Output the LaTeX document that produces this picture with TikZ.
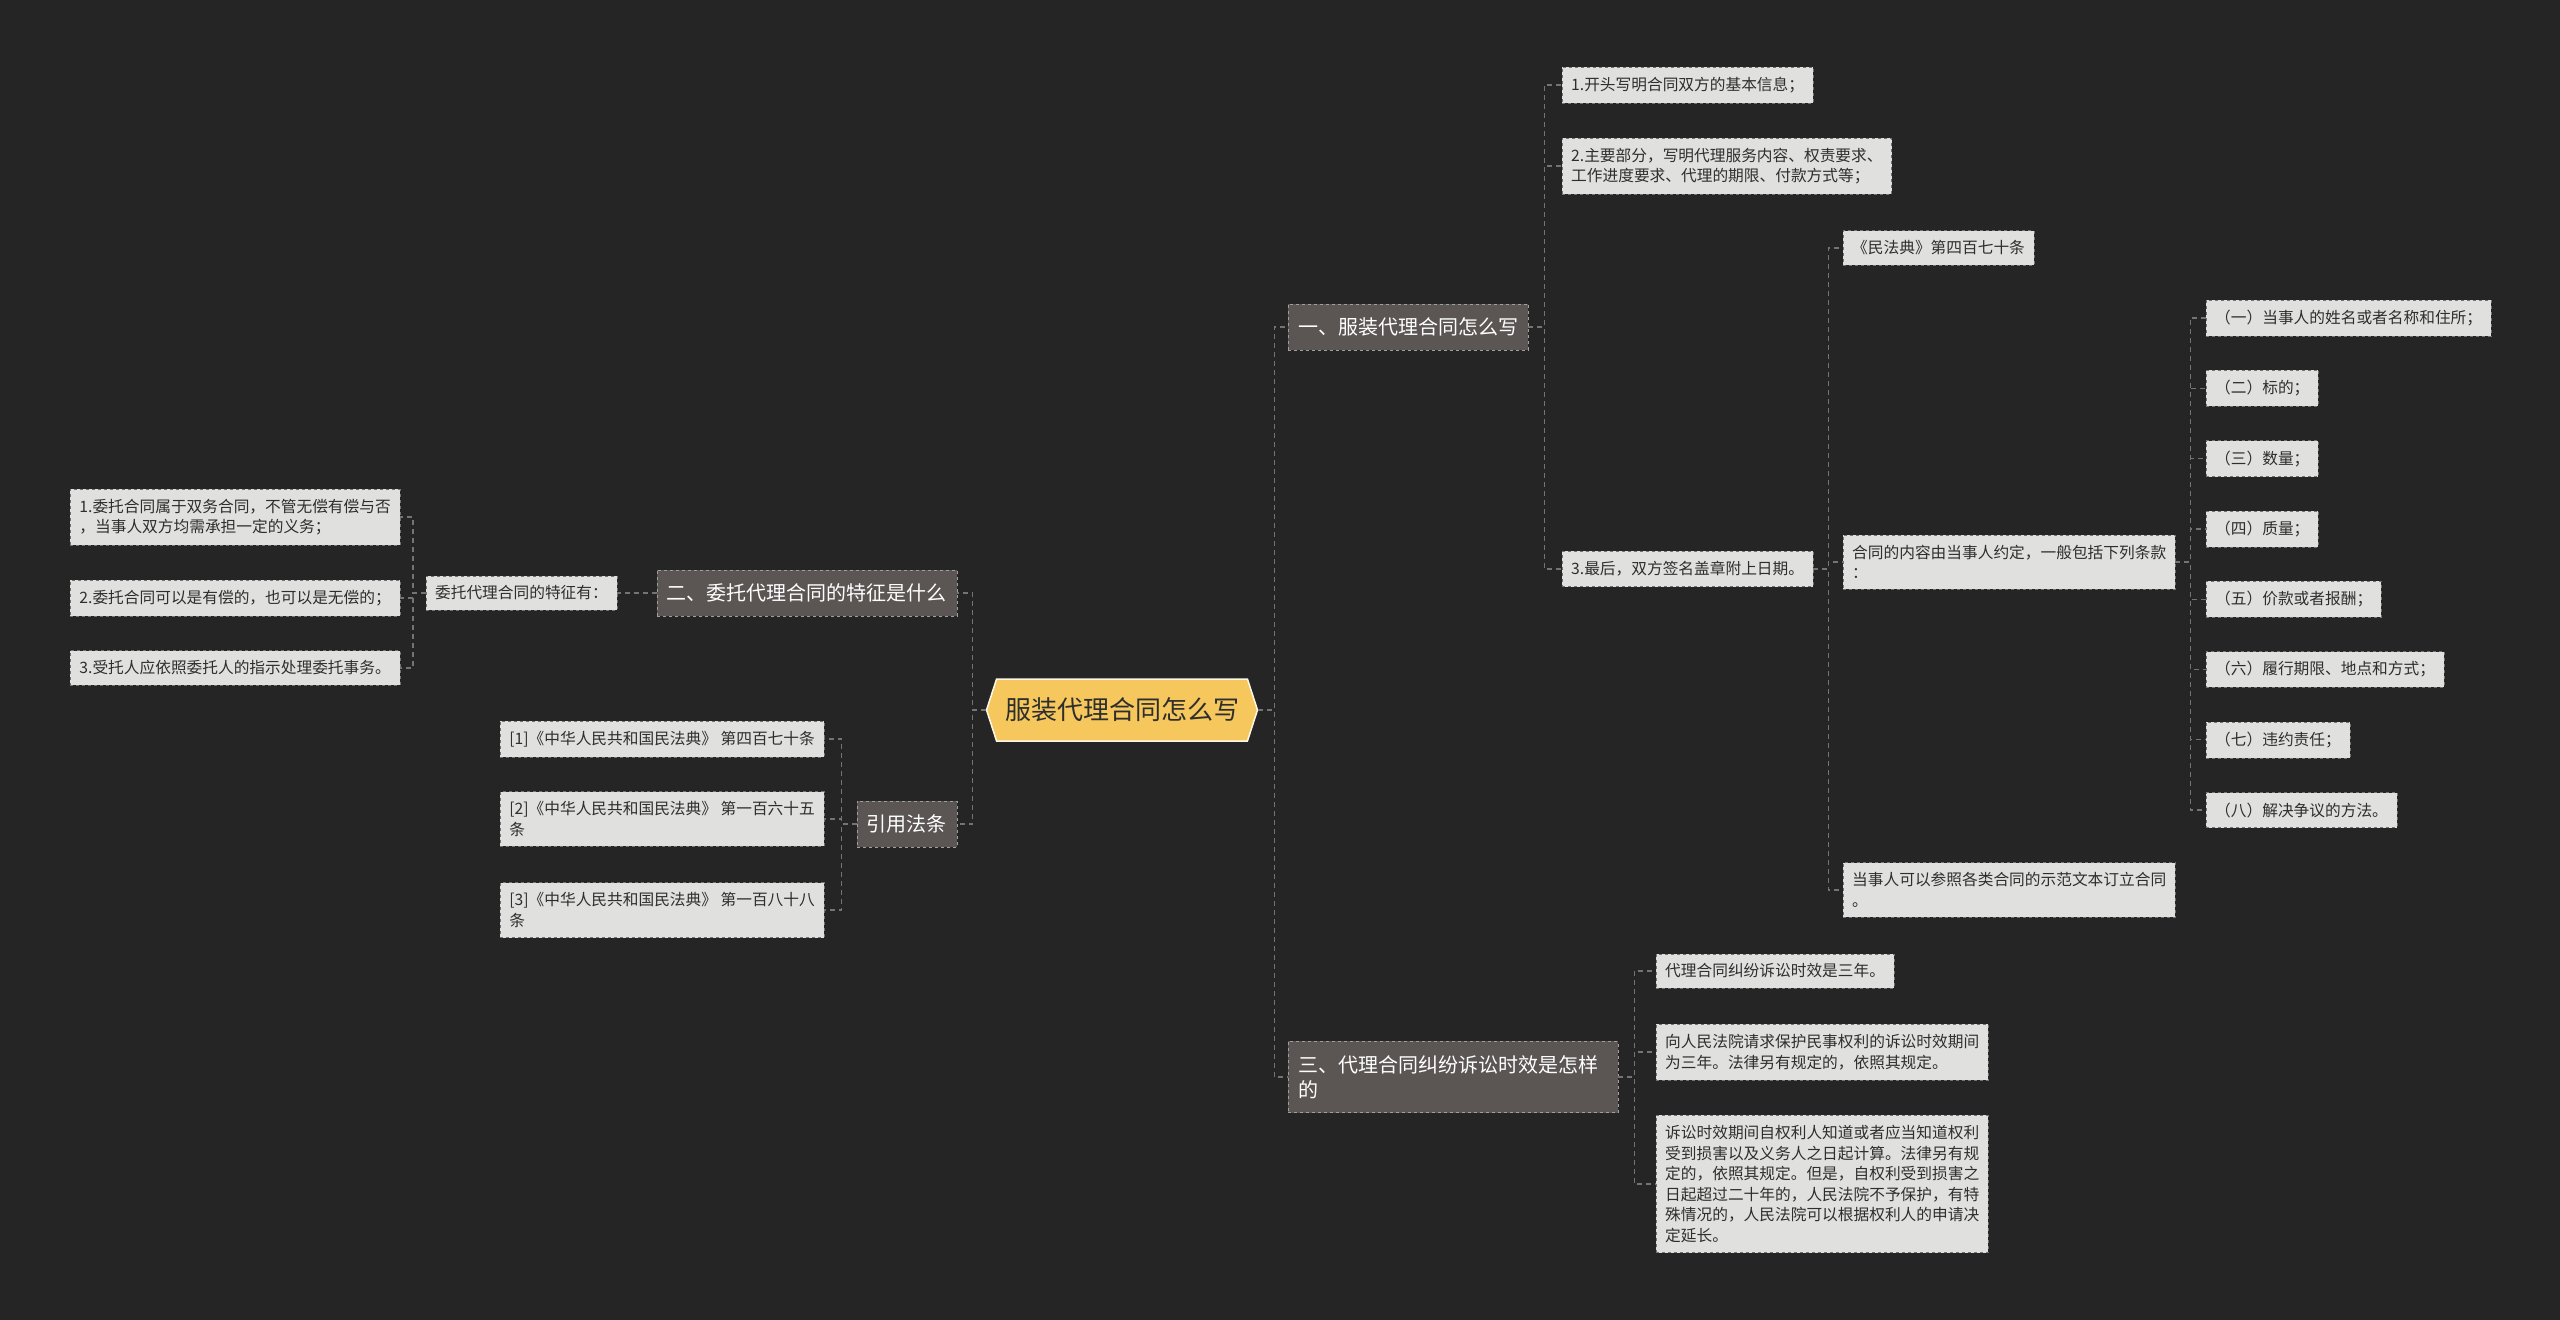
\documentclass[tikz,border=0pt]{standalone}
\usepackage{fontspec}
\setmainfont{Noto Sans CJK SC}
\usetikzlibrary{shapes.symbols}

\definecolor{bgdark}{HTML}{252525}
\definecolor{branchfill}{HTML}{5B5654}
\definecolor{leaffill}{HTML}{E0E0DE}
\definecolor{rootfill}{HTML}{F5C75C}
\definecolor{textdark}{HTML}{2E2E2E}
\definecolor{linkgray}{HTML}{747474}

\tikzset{
  root/.style={signal, signal to=west and east, signal pointer angle=144,
    fill=rootfill, draw=white!85!rootfill, line width=1.5pt, text=textdark,
    minimum width=271pt, minimum height=62pt, font=\fontsize{26}{30}\selectfont},
  branch/.style={fill=branchfill, draw=gray!75, dashed, text=white, align=left,
    inner xsep=10pt, inner ysep=14pt, font=\fontsize{20}{25}\selectfont},
  leaf/.style={fill=leaffill, draw=black!55, dashed, text=textdark, align=left,
    inner xsep=9pt, inner ysep=10pt, font=\fontsize{15.7}{20.5}\selectfont},
  link/.style={draw=linkgray, line width=1.3pt, dash pattern=on 5pt off 4pt}
}

\begin{document}
\begin{tikzpicture}[x=1pt, y=-1pt]
	\path[use as bounding box, fill=bgdark] (0,0) rectangle (2560,1320);

	\node[root] (root) at (1122,710) {服装代理合同怎么写};

	% right side
	\node[branch, anchor=west] (sec1) at (1288,327) {一、服装代理合同怎么写};
	\node[branch, anchor=west, text width=310pt] (sec3) at (1288,1077) {三、代理合同纠纷诉讼时效是怎样\\的};

	\node[leaf, anchor=west] (p1) at (1562,85) {1.开头写明合同双方的基本信息；};
	\node[leaf, anchor=west] (p2) at (1562,166) {2.主要部分，写明代理服务内容、权责要求、\\工作进度要求、代理的期限、付款方式等；};
	\node[leaf, anchor=west] (p3) at (1562,569) {3.最后，双方签名盖章附上日期。};

	\node[leaf, anchor=west] (q1) at (1843,248) {《民法典》第四百七十条};
	\node[leaf, anchor=west] (q2) at (1843,562) {合同的内容由当事人约定，一般包括下列条款\\：};
	\node[leaf, anchor=west] (q3) at (1843,890) {当事人可以参照各类合同的示范文本订立合同\\。};

	\foreach \t [count=\i from 0] in {（一）当事人的姓名或者名称和住所；, （二）标的；, （三）数量；, （四）质量；,
	    （五）价款或者报酬；, （六）履行期限、地点和方式；, （七）违约责任；, （八）解决争议的方法。}{
		\node[leaf, anchor=west] (k\i) at (2206,{318+70.3*\i}) {\t};
		\draw[link] (q2.east) -- ++(15,0) |- (k\i.west);
	}

	\node[leaf, anchor=west] (t1) at (1656,971) {代理合同纠纷诉讼时效是三年。};
	\node[leaf, anchor=west] (t2) at (1656,1052) {向人民法院请求保护民事权利的诉讼时效期间\\为三年。法律另有规定的，依照其规定。};
	\node[leaf, anchor=west] (t3) at (1656,1184) {诉讼时效期间自权利人知道或者应当知道权利\\受到损害以及义务人之日起计算。法律另有规\\定的，依照其规定。但是，自权利受到损害之\\日起超过二十年的，人民法院不予保护，有特\\殊情况的，人民法院可以根据权利人的申请决\\定延长。};

	% left side
	\node[branch, anchor=east] (sec2) at (957,593) {二、委托代理合同的特征是什么};
	\node[branch, anchor=east] (law) at (957,824) {引用法条};

	\node[leaf, anchor=east] (feat) at (617,593) {委托代理合同的特征有：};
	\node[leaf, anchor=east] (f1) at (400,517) {1.委托合同属于双务合同，不管无偿有偿与否\\，当事人双方均需承担一定的义务；};
	\node[leaf, anchor=east] (f2) at (400,598) {2.委托合同可以是有偿的，也可以是无偿的；};
	\node[leaf, anchor=east] (f3) at (400,668) {3.受托人应依照委托人的指示处理委托事务。};

	\node[leaf, anchor=east] (r1) at (824,739) {[1]《中华人民共和国民法典》 第四百七十条};
	\node[leaf, anchor=east] (r2) at (824,819) {[2]《中华人民共和国民法典》 第一百六十五\\条};
	\node[leaf, anchor=east] (r3) at (824,910) {[3]《中华人民共和国民法典》 第一百八十八\\条};

	% connectors
	\foreach \c in {sec1,sec3} \draw[link] (root.east) -- ++(16,0) |- (\c.west);
	\foreach \c in {sec2,law} \draw[link] (root.west) -- ++(-13,0) |- (\c.east);
	\foreach \c in {p1,p2,p3} \draw[link] (sec1.east) -- ++(16,0) |- (\c.west);
	\foreach \c in {q1,q2,q3} \draw[link] (p3.east) -- ++(15,0) |- (\c.west);
	\foreach \c in {t1,t2,t3} \draw[link] (sec3.east) -- ++(16,0) |- (\c.west);
	\draw[link] (sec2.west) -- (feat.east);
	\foreach \c in {f1,f2,f3} \draw[link] (feat.west) -- ++(-13,0) |- (\c.east);
	\foreach \c in {r1,r2,r3} \draw[link] (law.west) -- ++(-15,0) |- (\c.east);
\end{tikzpicture}
\end{document}
